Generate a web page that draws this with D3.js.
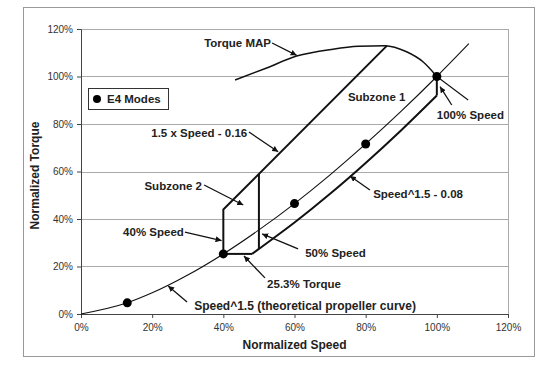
<!DOCTYPE html>
<html><head><meta charset="utf-8">
<script src="https://cdn.jsdelivr.net/npm/d3@7"></script>
<style>
html,body{margin:0;padding:0;background:#fff;}
svg{display:block;font-family:"Liberation Sans",Arial,sans-serif;}
</style></head>
<body><svg id="c" width="554" height="369"></svg>
<script>
// ---- data ----
const xTicks = [0, 0.2, 0.4, 0.6, 0.8, 1.0, 1.2];
const yTicks = [0, 0.2, 0.4, 0.6, 0.8, 1.0, 1.2];
const propellerSpeed  = [0, 0.13, 0.2, 0.3, 0.4, 0.5, 0.6, 0.7, 0.8, 0.9, 1.0, 1.09];
const propellerTorque = [0, 0.047, 0.089, 0.164, 0.253, 0.354, 0.465, 0.586, 0.716, 0.854, 1.0, 1.138];
const modeSpeed  = [0.13, 0.4, 0.6, 0.8, 1.0];
const modeTorque = [0.047, 0.253, 0.465, 0.716, 1.0];
const mapSpeed  = [0.433, 0.52, 0.606, 0.708, 0.78, 0.854, 0.915, 0.961, 1.0];
const mapTorque = [0.985, 1.035, 1.086, 1.115, 1.127, 1.130, 1.104, 1.062, 1.0];
const governorSpeed  = [1.0, 1.088];
const governorTorque = [1.0, 0.901];
const upperSpeed  = [0.4, 0.4, 0.86];
const upperTorque = [0.253, 0.44, 1.13];
const lowerSpeed  = [0.4, 0.481, 0.5, 0.6, 0.7, 0.8, 0.9, 1.0, 1.0];
const lowerTorque = [0.253, 0.253, 0.274, 0.385, 0.506, 0.636, 0.774, 0.92, 1.0];
const mid50Speed  = [0.5, 0.5];
const mid50Torque = [0.274, 0.59];
const labels = ["Torque MAP", "Subzone 1", "100% Speed", "1.5 x Speed - 0.16", "Subzone 2",
  "40% Speed", "50% Speed", "25.3% Torque", "Speed^1.5 (theoretical propeller curve)", "Speed^1.5 - 0.08"];

// ---- layout ----
const svg = d3.select("#c");
const x = d3.scaleLinear().domain([0, 1.2]).range([81, 508]);
const y = d3.scaleLinear().domain([0, 1.2]).range([314, 29]);
const zip = (a, b) => a.map((v, i) => [v, b[i]]);

// outer frame
svg.append("rect").attr("x", 23.5).attr("y", 7.5).attr("width", 511).attr("height", 349)
  .attr("fill", "none").attr("stroke", "#999").attr("stroke-width", 1);

// gridlines
svg.append("g").selectAll("line").data(yTicks.slice(1)).join("line")
  .attr("x1", x(0)).attr("x2", x(1.2)).attr("y1", d => Math.round(y(d)) + 0.5).attr("y2", d => Math.round(y(d)) + 0.5)
  .attr("stroke", "#aaa").attr("stroke-width", 1);
svg.append("line").attr("x1", x(1.2) + 0.5).attr("x2", x(1.2) + 0.5).attr("y1", y(1.2)).attr("y2", y(0))
  .attr("stroke", "#aaa");

// axes
const fmt = d3.format(".0%");
const xa = svg.append("g").attr("transform", `translate(0,${y(0)})`)
  .call(d3.axisBottom(x).tickValues(xTicks).tickFormat(fmt).tickSize(4).tickPadding(6));
const ya = svg.append("g").attr("transform", `translate(${x(0)},0)`)
  .call(d3.axisLeft(y).tickValues(yTicks).tickFormat(fmt).tickSize(4).tickPadding(4));
[xa, ya].forEach(g => {
  g.select(".domain").attr("stroke", "#444");
  g.selectAll(".tick line").attr("stroke", "#444");
  g.selectAll("text").attr("font-size", 10).attr("fill", "#333").attr("font-family", '"Liberation Sans",Arial,sans-serif');
});

// axis titles
svg.append("text").attr("x", (x(0) + x(1.2)) / 2).attr("y", 349).attr("text-anchor", "middle")
  .attr("font-size", 12).attr("font-weight", "bold").attr("fill", "#222").text("Normalized Speed");
svg.append("text").attr("transform", `translate(39,${(y(0) + y(1.2)) / 2 + 4}) rotate(-90)`).attr("text-anchor", "middle")
  .attr("font-size", 12).attr("font-weight", "bold").attr("fill", "#222").text("Normalized Torque");

const line = d3.line().x(d => x(d[0])).y(d => y(d[1]));
const smooth = d3.line().x(d => x(d[0])).y(d => y(d[1])).curve(d3.curveMonotoneX);

// propeller curve
svg.append("path").attr("d", smooth(zip(propellerSpeed, propellerTorque)))
  .attr("fill", "none").attr("stroke", "#111").attr("stroke-width", 1.1);
// torque map
svg.append("path").attr("d", smooth(zip(mapSpeed, mapTorque)))
  .attr("fill", "none").attr("stroke", "#111").attr("stroke-width", 1.5);
svg.append("path").attr("d", line(zip(governorSpeed, governorTorque)))
  .attr("fill", "none").attr("stroke", "#111").attr("stroke-width", 1.1);
// zone boundaries
svg.append("path").attr("d", line(zip(upperSpeed, upperTorque)))
  .attr("fill", "none").attr("stroke", "#111").attr("stroke-width", 2).attr("stroke-linejoin", "round");
svg.append("path").attr("d", smooth(zip(lowerSpeed.slice(1, 8), lowerTorque.slice(1, 8))))
  .attr("fill", "none").attr("stroke", "#111").attr("stroke-width", 2);
svg.append("path").attr("d", line([[lowerSpeed[0], lowerTorque[0]], [lowerSpeed[1], lowerTorque[1]]]))
  .attr("fill", "none").attr("stroke", "#111").attr("stroke-width", 2);
svg.append("path").attr("d", line([[lowerSpeed[7], lowerTorque[7]], [lowerSpeed[8], lowerTorque[8]]]))
  .attr("fill", "none").attr("stroke", "#111").attr("stroke-width", 2);
svg.append("path").attr("d", line(zip(mid50Speed, mid50Torque)))
  .attr("fill", "none").attr("stroke", "#111").attr("stroke-width", 2);

// mode points
svg.append("g").selectAll("circle").data(zip(modeSpeed, modeTorque)).join("circle")
  .attr("cx", d => x(d[0])).attr("cy", d => y(d[1])).attr("r", 4.5).attr("fill", "#000");

// legend
svg.append("rect").attr("x", 88.5).attr("y", 88.5).attr("width", 80).attr("height", 21)
  .attr("fill", "#fff").attr("stroke", "#333").attr("stroke-width", 1);
svg.append("circle").attr("cx", 97).attr("cy", 99).attr("r", 4).attr("fill", "#000");
svg.append("text").attr("x", 107).attr("y", 103).attr("font-size", 11.5).attr("font-weight", "bold").attr("fill", "#222").text("E4 Modes");

// arrow marker
svg.append("defs").append("marker").attr("id", "ah").attr("viewBox", "0 0 10 10")
  .attr("refX", 10).attr("refY", 5).attr("markerWidth", 6).attr("markerHeight", 6)
  .attr("markerUnits", "userSpaceOnUse").attr("orient", "auto")
  .append("path").attr("d", "M0,0L10,5L0,10z").attr("fill", "#111");

// annotations: [label index, label x, label y, anchor, arrow tail, arrow tip]
const notes = [
  [0, 0.534, 1.141, "end", [0.537, 1.141], [0.606, 1.089]],
  [1, 0.750, 0.914, "start", null, null],
  [2, 1.000, 0.838, "start", [1.042, 0.880], [1.009, 0.957]],
  [3, 0.467, 0.762, "end", [0.472, 0.766], [0.554, 0.683]],
  [4, 0.340, 0.539, "end", [0.346, 0.543], [0.456, 0.459]],
  [5, 0.289, 0.345, "end", [0.292, 0.345], [0.395, 0.309]],
  [6, 0.630, 0.257, "start", [0.610, 0.274], [0.509, 0.337]],
  [7, 0.523, 0.126, "start", [0.517, 0.152], [0.458, 0.244]],
  [8, 0.318, 0.034, "start", [0.298, 0.0505], [0.245, 0.118]],
  [9, 0.821, 0.505, "start", [0.812, 0.522], [0.756, 0.581]]
];
const ng = svg.append("g");
notes.forEach(n => {
  ng.append("text").attr("x", x(n[1])).attr("y", y(n[2])).attr("dy", "0.36em")
    .attr("text-anchor", n[3]).attr("font-size", n[0] === 8 ? 12 : 11.5).attr("font-weight", "bold").attr("fill", "#222")
    .text(labels[n[0]]);
  if (n[4]) {
    ng.append("line").attr("x1", x(n[4][0])).attr("y1", y(n[4][1])).attr("x2", x(n[5][0])).attr("y2", y(n[5][1]))
      .attr("stroke", "#111").attr("stroke-width", 1.3).attr("marker-end", "url(#ah)");
  }
});
</script></body></html>
